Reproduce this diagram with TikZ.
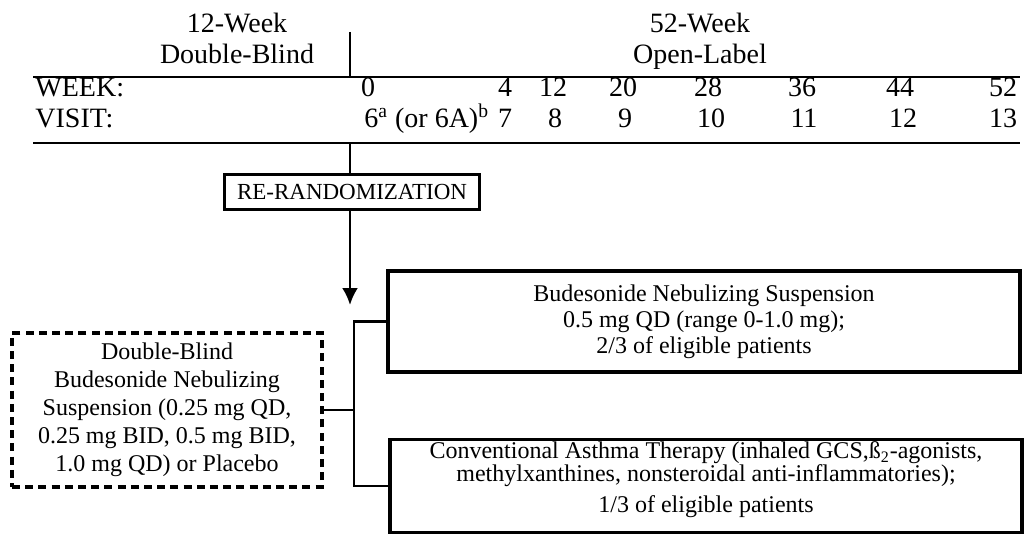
\documentclass[tikz,border=0pt]{standalone}
\usepackage{fontspec}
\setmainfont{Liberation Serif}
\usetikzlibrary{positioning,arrows,arrows.meta}
\tikzset{
    phase/.style={
        align=center,
        anchor=north,
        inner sep=0pt,
        font=\fontsize{14}{15.5}\selectfont,
    },
    rowtext/.style={
        anchor=base,
        inner sep=0pt,
        font=\fontsize{14}{16}\selectfont,
    },
    rowlabel/.style={
        rowtext,
        anchor=base west,
    },
    rule/.style={
        line width=1.3pt,
    },
    randbox/.style={
        rectangle,
        draw=black,
        line width=1.3pt,
        fill=white,
        inner sep=1pt,
        minimum width=127.5pt,
        minimum height=17.5pt,
        font=\fontsize{11.5}{13}\selectfont,
    },
    armbox/.style={
        rectangle,
        draw=black,
        line width=1.6pt,
        align=center,
        minimum width=316pt,
        font=\fontsize{12}{13}\selectfont,
    },
    blindbox/.style={
        rectangle,
        draw=black,
        line width=1.8pt,
        dash pattern=on 4pt off 2.6pt,
        align=center,
        minimum width=155pt,
        minimum height=77pt,
        font=\fontsize{12}{14}\selectfont,
    },
    connector/.style={
        -{Latex[length=8.5pt,width=8pt]},
        line width=1.3pt,
    },
    bracket/.style={
        -,
        line width=1.3pt,
    },
}
\begin{document}
\begin{tikzpicture}[x=0.5pt,y=-0.5pt]
    \useasboundingbox (0,0) rectangle (1026,534);
    % phases
    \node[phase](db) at (237,13) {12-Week\\Double-Blind};
    \node[phase](ol) at (700,13) {52-Week\\Open-Label};
    \coordinate (divtop) at (350,32);
    \coordinate (divbot) at (350,77);
    \draw[rule] (divtop) -- (divbot);
    % schedule
    \coordinate (r1w) at (33,77);
    \coordinate (r1e) at (1020,77);
    \coordinate (r2w) at (33,143);
    \coordinate (r2e) at (1020,143);
    \draw[rule] (r1w) -- (r1e);
    \draw[rule] (r2w) -- (r2e);
    \node[rowlabel](week) at (35,97) {WEEK:};
    \node[rowlabel](visit) at (35,128) {VISIT:};
    \foreach \wk/\xx in {0/368,4/505,12/553,20/623,28/708,36/802,44/900,52/1003}
        \node[rowtext](w\wk) at (\xx,97) {\wk};
    \node[rowtext,anchor=base west](v6) at (364,128) {6\textsuperscript{a} (or 6A)\textsuperscript{b}};
    \foreach \vs/\xx in {7/505,8/555,9/625,10/711,11/804,12/903,13/1003}
        \node[rowtext](v\vs) at (\xx,128) {\vs};
    % randomisation
    \coordinate (split) at (350,143);
    \coordinate (arrowtip) at (350,305);
    \node[randbox](rr) at (352,192) {RE-RANDOMIZATION};
    \draw[rule] (split) -- (split |- rr.north);
    \draw[connector] (split |- rr.south) -- (arrowtip);
    % arms
    \node[blindbox](dbb) at (167,410) {Double-Blind\\Budesonide Nebulizing\\Suspension (0.25 mg QD,\\0.25 mg BID, 0.5 mg BID,\\1.0 mg QD) or Placebo};
    \node[armbox,minimum height=50.5pt](bns) at (704,321.5) {Budesonide Nebulizing Suspension\\0.5 mg QD (range 0-1.0 mg);\\2/3 of eligible patients};
    \node[armbox,inner ysep=1pt,minimum height=46pt](cat) at (706,486) {Conventional Asthma Therapy (inhaled GCS,ß\textsubscript{2}-agonists,\\[-1.5pt]methylxanthines, nonsteroidal anti-inflammatories);\\[2.5pt]1/3 of eligible patients\rule[-9pt]{0pt}{9pt}};
    \coordinate (fork) at (354,410);
    \draw[bracket] (dbb.east) -- (fork);
    \draw[bracket] (bns.west) -| (fork) |- (cat.west);
\end{tikzpicture}
\end{document}
